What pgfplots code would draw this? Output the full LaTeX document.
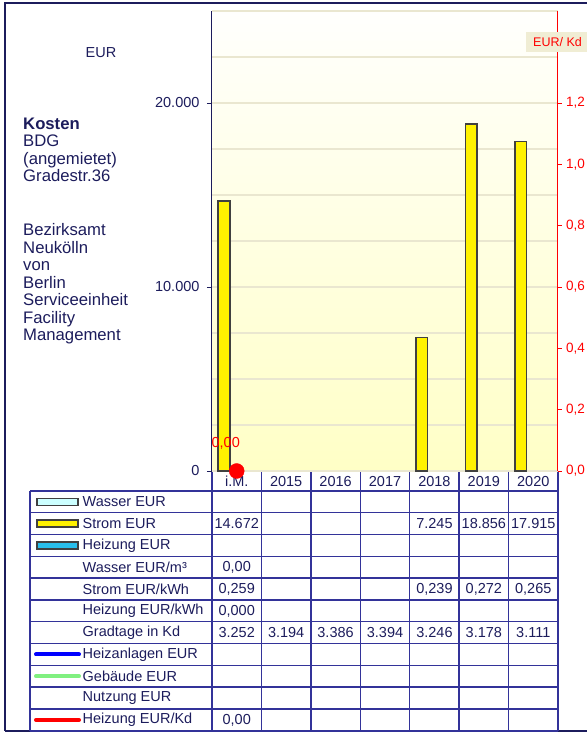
\documentclass[border=0pt]{standalone}
\usepackage{fontspec}
\setmainfont{Liberation Sans}
\usepackage{pgfplots}
\pgfplotsset{compat=1.18}
\definecolor{navytxt}{RGB}{28,28,92}
\definecolor{tabline}{RGB}{51,51,153}
\definecolor{gridc}{RGB}{234,231,208}
\definecolor{bgtop}{RGB}{255,255,253}
\definecolor{bgbot}{RGB}{255,255,198}
\definecolor{boxbg}{RGB}{240,237,212}
\definecolor{barline}{RGB}{64,64,64}
\definecolor{wasser}{RGB}{204,255,255}
\definecolor{heizung}{RGB}{40,190,235}
\definecolor{gebaeude}{RGB}{128,240,128}
\newcommand{\fs}{\fontsize{14.5}{16}\selectfont}
\newcommand{\fl}{\fontsize{16.7}{18}\selectfont}
\begin{document}
\begin{tikzpicture}[x=1pt,y=1pt]
\useasboundingbox (0,0) rectangle (587,732);
% outer frame
\draw[navytxt, line width=1.2pt] (5,1) -- (5,729) -- (600,729);
\draw[navytxt, line width=1.2pt] (5,1) -- (600,1);
% table grid
\begin{scope}[tabline, line width=1.4pt]
\foreach \k in {0,...,7} { \draw ({212+49.43*\k},261) -- ({212+49.43*\k},1); }
\foreach \r in {0,...,11} { \draw (30,{241-21.8*\r}) -- (558,{241-21.8*\r}); }
\draw (212,261) -- (558,261);
\draw (30,241) -- (30,1);
\end{scope}
% header labels
\begin{scope}[every node/.style={text=navytxt, font=\fs, inner sep=0pt}]
\foreach \lab [count=\i from 0] in {i.M.,2015,2016,2017,2018,2019,2020} {
  \node at ({212+49.43*(\i+0.5)},250.5) {\lab};
}
% row labels
\foreach \lab [count=\i from 0] in {Wasser EUR,Strom EUR,Heizung EUR,Wasser EUR/m³,Strom EUR/kWh,Heizung EUR/kWh,Gradtage in Kd,Heizanlagen EUR,Gebäude EUR,Nutzung EUR,Heizung EUR/Kd} {
  \node[anchor=west] at (82.5,{241-21.8*(\i+0.5)}) {\lab};
}
% cell values
\newcommand{\cell}[3]{\node at ({212+49.43*(#1+0.5)},{241-21.8*(#2+0.5)}) {#3};}
\cell{0}{1}{14.672}\cell{4}{1}{7.245}\cell{5}{1}{18.856}\cell{6}{1}{17.915}
\cell{0}{3}{0,00}
\cell{0}{4}{0,259}\cell{4}{4}{0,239}\cell{5}{4}{0,272}\cell{6}{4}{0,265}
\cell{0}{5}{0,000}
\cell{0}{6}{3.252}\cell{1}{6}{3.194}\cell{2}{6}{3.386}\cell{3}{6}{3.394}\cell{4}{6}{3.246}\cell{5}{6}{3.178}\cell{6}{6}{3.111}
\cell{0}{10}{0,00}
\end{scope}
% legend icons
\draw[barline, line width=1.6pt, fill=wasser] (37,{241-21.8*0.5-3.5}) rectangle (78,{241-21.8*0.5+3.5});
\draw[barline, line width=1.6pt, fill=yellow] (37,{241-21.8*1.5-3.5}) rectangle (78,{241-21.8*1.5+3.5});
\draw[barline, line width=1.6pt, fill=heizung] (37,{241-21.8*2.5-3.5}) rectangle (78,{241-21.8*2.5+3.5});
\draw[blue, line width=4pt, line cap=round] (36,{241-21.8*7.5}) -- (79,{241-21.8*7.5});
\draw[gebaeude, line width=4pt, line cap=round] (36,{241-21.8*8.5}) -- (79,{241-21.8*8.5});
\draw[red, line width=4pt, line cap=round] (36,{241-21.8*10.5}) -- (79,{241-21.8*10.5});
% left text
\begin{scope}[every node/.style={text=navytxt, font=\fl, inner sep=0pt, anchor=base west}]
\node at (23,{732-130}) {\textbf{Kosten}};
\node at (23,{732-147}) {BDG};
\node at (23,{732-164.5}) {(angemietet)};
\node at (23,{732-182}) {Gradestr.36};
\node at (23,{732-236}) {Bezirksamt};
\node at (23,{732-253.5}) {Neukölln};
\node at (23,{732-271}) {von};
\node at (23,{732-288.5}) {Berlin};
\node at (23,{732-306}) {Serviceeinheit};
\node at (23,{732-323.5}) {Facility};
\node at (23,{732-341}) {Management};
\end{scope}
\node[text=navytxt, font=\fs, inner sep=0pt] at (101,679) {EUR};
% left axis with bars
\begin{axis}[
  at={(212pt,261pt)}, anchor=south west,
  scale only axis, width=346pt, height=460pt,
  xmin=-0.5, xmax=6.5, ymin=0, ymax=25000,
  axis y line*=left, axis x line=none,
  axis background/.style={shade, top color=bgtop, bottom color=bgbot},
  ytick={0,10000,20000},
  minor ytick={2500,5000,7500,12500,15000,17500,22500,25000},
  ymajorgrids, yminorgrids,
  major grid style={gridc, line width=1.4pt},
  minor grid style={gridc, line width=1.4pt},
  minor tick length=0pt,
  tick align=outside, major tick length=5pt,
  major tick style={navytxt, line width=0.8pt},
  y axis line style={navytxt, line width=1pt},
  yticklabel style={text=navytxt, font=\fs, xshift=-4pt},
  scaled y ticks=false,
  /pgf/number format/1000 sep={.},
  /pgf/number format/assume math mode=true,
  clip=false,
]
\addplot[ybar, bar width=11.5pt, bar shift=-12.7pt, fill=yellow, draw=barline, line width=1.6pt]
  coordinates {(0,14672) (4,7245) (5,18856) (6,17915)};
\end{axis}
% right axis
\begin{axis}[
  at={(212pt,261pt)}, anchor=south west,
  scale only axis, width=346pt, height=460pt,
  xmin=-0.5, xmax=6.5, ymin=0, ymax=1.5,
  axis y line*=right, axis x line=none,
  ytick={0,0.2,0.4,0.6,0.8,1.0,1.2},
  tick align=outside, major tick length=4pt,
  major tick style={red, line width=0.8pt},
  y axis line style={red, line width=1pt},
  yticklabel style={text=red, font=\fontsize{13.5}{15}\selectfont, xshift=0.5pt},
  /pgf/number format/.cd, fixed, fixed zerofill, precision=1, use comma, assume math mode=true,
  /pgfplots/.cd,
  clip=false,
]
\addplot[only marks, mark=*, mark size=7.5pt, color=red, point meta=y,
  nodes near coords={\pgfmathprintnumber[fixed,fixed zerofill,precision=2,use comma]{\pgfplotspointmeta}},
  every node near coord/.append style={anchor=center, xshift=-11pt, yshift=28pt, text=red, font=\fs}]
  coordinates {(0,0)};
\end{axis}
% EUR/Kd box
\fill[boxbg] (526,680.3) rectangle (590,700.3);
\node[text=red, font=\fontsize{12.5}{14}\selectfont, anchor=west, inner sep=0pt] at (533,690) {EUR/ Kd};
\end{tikzpicture}
\end{document}
